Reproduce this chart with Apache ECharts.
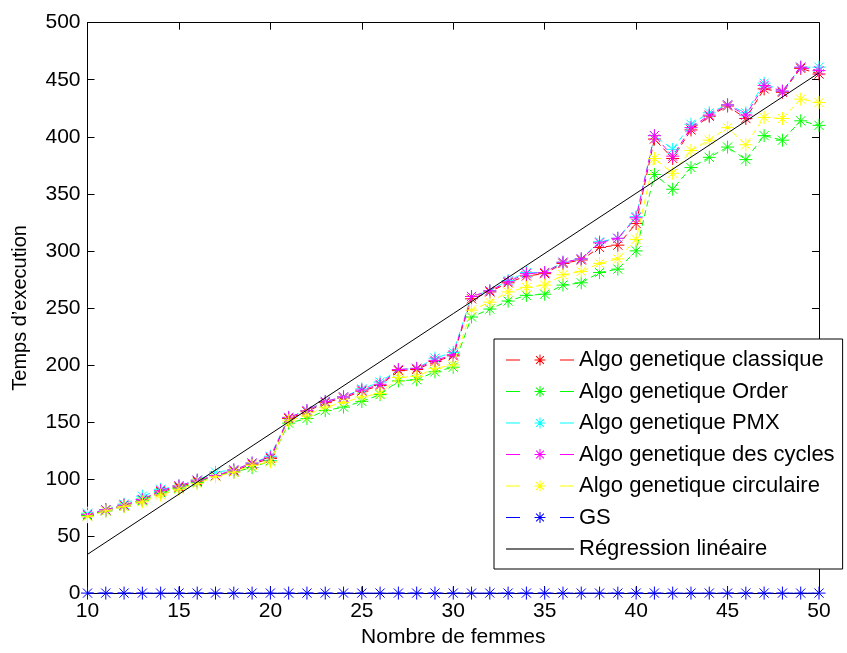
<!DOCTYPE html>
<html>
<head>
<meta charset="utf-8">
<script src="https://cdn.jsdelivr.net/npm/echarts@6/dist/echarts.min.js"></script>
<style>html,body{margin:0;padding:0;background:#fff}#c{width:847px;height:653px}</style>
</head>
<body>
<div id="c"></div>
<script>
var xs = [10,11,12,13,14,15,16,17,18,19,20,21,22,23,24,25,26,27,28,29,30,31,32,33,34,35,36,37,38,39,40,41,42,43,44,45,46,47,48,49,50];
var classique = [68,73,77,82,89,93,98,103,107,113,118,153,159,167,171,177,182,195,196,203,208,258,264,272,278,280,289,292,303,305,324,398,381,406,418,427,416,442,439,460,455];
var order = [68,72,76,81,88,92,97,103,106,110,116,149,153,160,163,168,174,186,187,194,198,242,249,256,261,262,270,272,281,284,300,367,354,373,382,391,380,401,397,414,410];
var pmx = [70,73,78,85,91,94,99,106,108,114,120,154,160,168,172,179,185,196,197,206,211,260,265,274,281,281,290,293,308,311,330,401,389,411,421,428,421,447,440,461,461];
var cycles = [69,73,77,82,90,94,99,103,108,114,119,154,160,168,172,178,183,196,197,204,209,260,265,273,280,281,290,293,307,311,329,401,383,408,419,428,419,445,440,461,458];
var circulaire = [67,72,76,80,86,91,96,102,106,112,115,151,156,163,167,172,175,189,190,197,200,248,255,264,268,270,279,282,289,293,310,381,368,388,397,408,393,417,416,433,430];
var gs = [0,0,0,0,0,0,0,0,0,0,0,0,0,0,0,0,0,0,0,0,0,0,0,0,0,0,0,0,0,0,0,0,0,0,0,0,0,0,0,0,0];
var regX = [10, 50];
var regY = [34, 456];

var names = ['Algo genetique classique','Algo genetique Order','Algo genetique PMX','Algo genetique des cycles','Algo genetique circulaire','GS','Régression linéaire'];
var colors = ['#ff0000','#00ff00','#00ffff','#ff00ff','#ffff00','#0000ff','#000000'];
var values = [classique, order, pmx, cycles, circulaire, gs];

var STAR = 'path://M0,5L10,5M5,0L5,10M1.46,1.46L8.54,8.54M8.54,1.46L1.46,8.54';
var FONT = 'Liberation Sans';

// legend icons (filled shapes, 68x14 box)
var BOX = 'M0,0L0.01,0L0,0.01Z M68,14L67.99,14L68,13.99Z ';
var DASHES = 'M0,6.4L14,6.4L14,7.6L0,7.6Z M54,6.4L68,6.4L68,7.6L54,7.6Z ';
var LSTAR = 'M28.5,6.5L39.5,6.5L39.5,7.5L28.5,7.5Z M33.5,1.5L34.5,1.5L34.5,12.5L33.5,12.5Z ' +
            'M30.45,2.75L38.25,10.55L37.55,11.25L29.75,3.45Z M37.55,2.75L38.25,3.45L30.45,11.25L29.75,10.55Z ';
var ICON_SERIES = 'path://' + BOX + DASHES + LSTAR;
var ICON_REG = 'path://' + BOX + 'M0,6.3L68,6.3L68,7.7L0,7.7Z';

var series = values.map(function (arr, k) {
  return {
    name: names[k],
    type: 'line',
    xAxisIndex: 0, yAxisIndex: 0,
    data: xs.map(function (x, i) { return [x, arr[i]]; }),
    symbol: STAR,
    symbolSize: 13,
    showAllSymbol: true,
    clip: false,
    color: colors[k],
    lineStyle: { color: colors[k], width: 1, type: [6, 4] },
    itemStyle: { color: 'rgba(255,255,255,0)', borderColor: colors[k], borderWidth: 1 },
    emphasis: { disabled: true },
    z: 2 + k
  };
});
series.push({
  name: names[6],
  type: 'line',
  xAxisIndex: 0, yAxisIndex: 0,
  data: regX.map(function (x, i) { return [x, regY[i]]; }),
  symbol: 'none',
  color: '#000',
  lineStyle: { color: '#000', width: 1, type: 'solid' },
  emphasis: { disabled: true },
  z: 10
});

var axisCommon = {
  axisLine: { onZero: false, lineStyle: { color: '#000', width: 1 } },
  axisTick: { inside: true, length: 7, lineStyle: { color: '#000', width: 1 } },
  splitLine: { show: false },
  axisLabel: { color: '#000', fontFamily: FONT, fontSize: 21 }
};

function ax(extra) {
  var o = JSON.parse(JSON.stringify(axisCommon));
  for (var k in extra) o[k] = extra[k];
  return o;
}

var legendColors = ['#ff0000','#00ff00','#00ffff','#ff00ff','#ffff00','#0000ff','#444444'];
var legendData = names.map(function (n, k) {
  return {
    name: n,
    icon: k < 6 ? ICON_SERIES : ICON_REG,
    itemStyle: { color: legendColors[k], borderWidth: 0, borderColor: 'rgba(0,0,0,0)' }
  };
});

var option = {
  animation: false,
  backgroundColor: '#fff',
  grid: { left: 87.5, top: 22.7, right: 28, bottom: 54, containLabel: false },
  xAxis: [
    ax({ type: 'value', min: 10, max: 50, interval: 5, position: 'bottom',
         name: 'Nombre de femmes', nameLocation: 'middle', nameGap: 32,
         nameTextStyle: { color: '#000', fontFamily: FONT, fontSize: 21 },
         axisLabel: { color: '#000', fontFamily: FONT, fontSize: 21, margin: 8 } }),
    ax({ type: 'value', min: 10, max: 50, interval: 5, position: 'top',
         axisLabel: { show: false } })
  ],
  yAxis: [
    ax({ type: 'value', min: 0, max: 500, interval: 50, position: 'left',
         name: 'Temps d’execution', nameLocation: 'middle', nameGap: 57,
         nameTextStyle: { color: '#000', fontFamily: FONT, fontSize: 20 },
         axisLabel: { color: '#000', fontFamily: FONT, fontSize: 21, margin: 7 } }),
    ax({ type: 'value', min: 0, max: 500, interval: 50, position: 'right',
         axisLabel: { show: false } })
  ],
  legend: {
    orient: 'vertical',
    left: 494, top: 339,
    padding: [10, 8, 9, 12],
    itemWidth: 68, itemHeight: 14, itemGap: 9.5,
    backgroundColor: '#fff',
    borderColor: '#000', borderWidth: 1, borderRadius: 0,
    selectedMode: false,
    textStyle: { color: '#000', fontFamily: FONT, fontSize: 22 },
    data: legendData
  },
  series: series
};

var chart = echarts.init(document.getElementById('c'), null, { renderer: 'canvas' });
chart.setOption(option);
</script>
</body>
</html>
